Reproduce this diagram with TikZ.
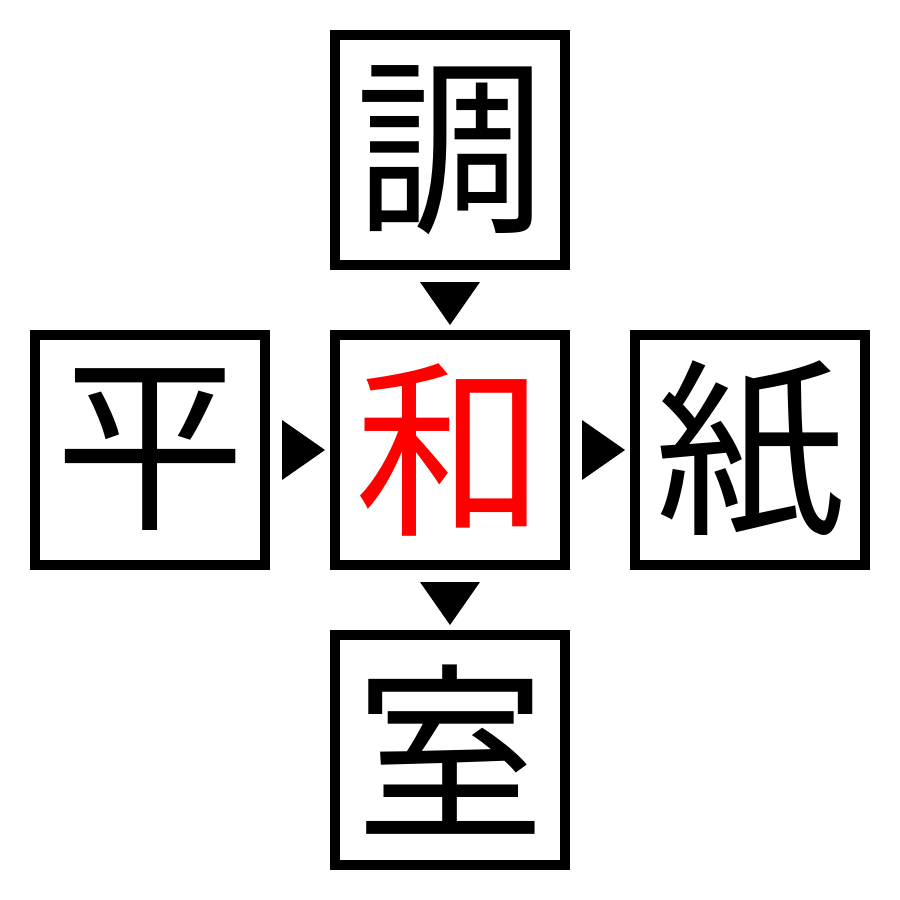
\documentclass[tikz,border=0pt]{standalone}
\usepackage{fontspec}
\newfontfamily\cjk{Noto Sans CJK JP}
\usetikzlibrary{calc}
\begin{document}
\begin{tikzpicture}[x=1pt,y=-1pt,
  kbox/.style={draw=black,line width=10pt,minimum size=230pt,inner sep=0pt,outer sep=0pt,font=\cjk\fontsize{190}{190}\selectfont},
  tri/.style={fill=black}]
\useasboundingbox (0,0) rectangle (900,900);
\node[kbox] (T) at (450,150) {調};
\node[kbox] (L) at (150,450) {平};
\node[kbox,text=red] (C) at (450,450) {和};
\node[kbox] (R) at (750,450) {紙};
\node[kbox] (B) at (450,750) {室};
% left -> center
\fill[tri] ($(L.east)+(17,-30)$) -- ($(L.east)+(17,30)$) -- ($(C.west)+(-10,0)$) -- cycle;
% center -> right
\fill[tri] ($(C.east)+(17,-30)$) -- ($(C.east)+(17,30)$) -- ($(R.west)+(-10,0)$) -- cycle;
% top -> center
\fill[tri] ($(T.south)+(-30,17)$) -- ($(T.south)+(30,17)$) -- ($(C.north)+(0,-10)$) -- cycle;
% center -> bottom
\fill[tri] ($(C.south)+(-30,17)$) -- ($(C.south)+(30,17)$) -- ($(B.north)+(0,-10)$) -- cycle;
\end{tikzpicture}
\end{document}
